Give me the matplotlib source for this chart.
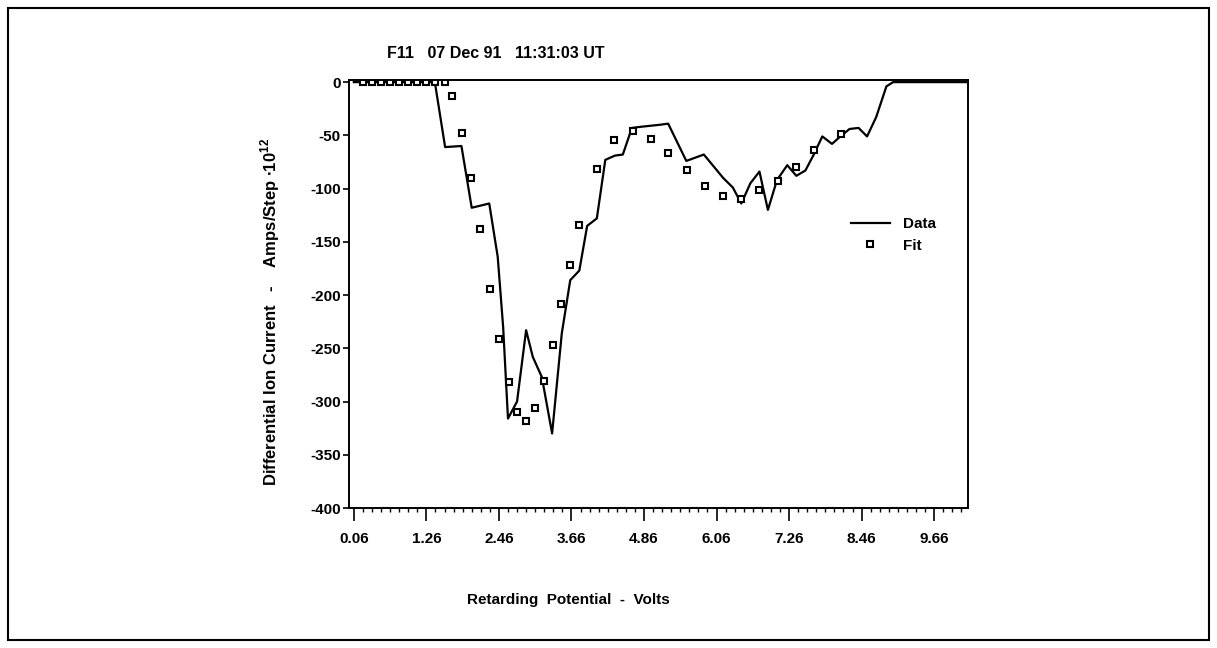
import matplotlib
matplotlib.use("Agg")
import matplotlib.pyplot as plt
from matplotlib.patches import Rectangle
from matplotlib.ticker import FixedLocator
import numpy as np

plt.rcParams['font.family'] = ['Liberation Sans', 'DejaVu Sans']
plt.rcParams['mathtext.fontset'] = 'custom'
plt.rcParams['mathtext.rm'] = 'Liberation Sans:bold'

# measured curve (Volts, Amps/Step * 1e12)
data_x = [0.06, 1.40, 1.57, 1.84, 2.01, 2.30, 2.44, 2.53, 2.61, 2.76, 2.91, 3.02,
          3.17, 3.34, 3.50, 3.64, 3.79, 3.92, 4.08, 4.22, 4.38, 4.51, 4.66, 4.80,
          5.13, 5.26, 5.56, 5.85, 6.17, 6.33, 6.47, 6.62, 6.77, 6.91, 7.06, 7.23,
          7.38, 7.53, 7.66, 7.81, 7.97, 8.11, 8.26, 8.41, 8.55, 8.70, 8.87, 8.98, 10.22]
data_y = [0, 0, -61, -60, -118, -114, -164, -230, -316, -300, -233, -258,
          -277, -330, -236, -186, -177, -135, -128, -73, -69, -68, -43, -42,
          -40, -39, -74, -68, -90, -99, -114, -95, -84, -120, -92, -78,
          -88, -83, -69, -51, -58, -51, -44, -43, -51, -33, -4, 0, 0]

# fit points
fit_x = [0.21, 0.36, 0.51, 0.66, 0.81, 0.96, 1.11, 1.26, 1.41, 1.56,
         1.69, 1.85, 2.00, 2.15, 2.31, 2.46, 2.62, 2.76, 2.91, 3.05, 3.20,
         3.35, 3.49, 3.64, 3.79, 4.08, 4.37, 4.67, 4.97, 5.26, 5.57, 5.87,
         6.17, 6.47, 6.77, 7.08, 7.37, 7.68, 8.12]
fit_y = [0, 0, 0, 0, 0, 0, 0, 0, 0, 0,
         -13, -48, -90, -138, -194, -241, -282, -310, -318, -306, -281,
         -247, -208, -172, -134, -82, -54, -46, -53, -67, -83, -98,
         -107, -110, -101, -93, -80, -64, -49]

x_ticks = [0.06, 1.26, 2.46, 3.66, 4.86, 6.06, 7.26, 8.46, 9.66]
y_ticks = [0, -50, -100, -150, -200, -250, -300, -350, -400]

fig = plt.figure(figsize=(12.17, 6.48), dpi=100)
ax = fig.add_axes([349/1217, 1-508/648, (968-349)/1217, (508-80)/648])

ax.plot(data_x, data_y, '-', color='black', lw=1.6, label='Data')
ax.plot(fit_x, fit_y, 's', ms=4.2, mfc='white', mec='black', mew=1.5, ls='none', label='Fit')

ax.set_xlim(-0.02, 10.22)
ax.set_ylim(-400, 2)
ax.xaxis.set_major_locator(FixedLocator(x_ticks))
ax.xaxis.set_minor_locator(FixedLocator(np.arange(0.06, 10.2, 0.15)))
ax.set_xticklabels([f"{v:.2f}" for v in x_ticks])
ax.yaxis.set_major_locator(FixedLocator(y_ticks))
ax.set_yticklabels([str(v) for v in y_ticks])

ax.tick_params(axis='x', which='major', direction='out', length=9, width=1.2, pad=8, labelsize=11)
ax.tick_params(axis='x', which='minor', direction='out', length=3, width=1.0)
ax.tick_params(axis='y', which='major', direction='out', length=4, width=1.2, pad=2, labelsize=11)
for lab in ax.get_xticklabels() + ax.get_yticklabels():
    lab.set_fontweight('bold')
for s in ax.spines.values():
    s.set_linewidth(1.4)

leg = ax.legend(loc='upper left', bbox_to_anchor=(0.788, 0.712), frameon=False,
                fontsize=11, handlelength=2.6, handletextpad=0.85, labelspacing=0.5)
for t in leg.get_texts():
    t.set_fontweight('bold')

fig.text(387/1217, 1-53/648, "F11   07 Dec 91   11:31:03 UT", fontsize=11.5,
         fontweight='bold', va='center', ha='left')
fig.text(270/1217, 1-312/648, "Differential Ion Current   -    Amps/Step $\\bullet$10$^{12}$",
         rotation=90, fontsize=12, fontweight='bold', va='center', ha='center')
fig.text(467/1217, 1-600/648, "Retarding  Potential  -  Volts", fontsize=11,
         fontweight='bold', va='center', ha='left')

fig.patches.append(Rectangle((8/1217, 8/648), 1201/1217, 632/648, transform=fig.transFigure,
                             fill=False, edgecolor='black', lw=1.5))

fig.savefig('out.png', dpi=100)
